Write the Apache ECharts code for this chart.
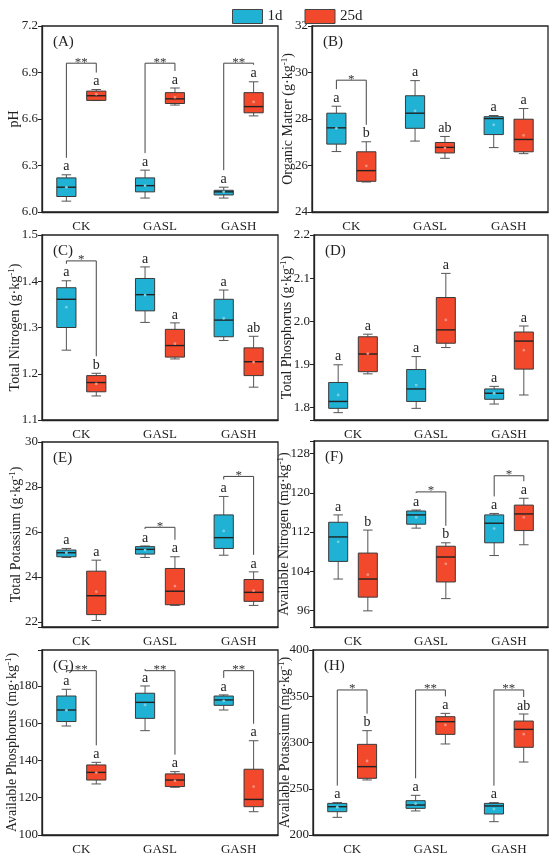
<!DOCTYPE html>
<html>
<head>
<meta charset="utf-8">
<script src="https://cdn.jsdelivr.net/npm/echarts@6/dist/echarts.min.js"></script>
<style>
  html, body { margin: 0; padding: 0; background: #fff; }
  #chart { width: 550px; height: 861px; }
</style>
</head>
<body>
<div id="chart"></div>
<script>
var chart = echarts.init(document.getElementById('chart'));
var FONT = 'Liberation Serif';
var C1 = '#1fb2d4';   // 1d
var C2 = '#f2482b';   // 25d

var categories = ['CK', 'GASL', 'GASH'];
var periods = ['1d', '25d'];
var panelTags = ['(A)', '(B)', '(C)', '(D)', '(E)', '(F)', '(G)', '(H)'];

// box rows: [min, Q1, median, Q3, max, mean]
var pH_1d  = [[6.07, 6.10, 6.16, 6.22, 6.24, 6.16], [6.09, 6.13, 6.17, 6.22, 6.27, 6.17], [6.09, 6.11, 6.13, 6.14, 6.16, 6.13]];
var pH_25d = [[6.72, 6.72, 6.75, 6.78, 6.79, 6.76], [6.69, 6.70, 6.73, 6.77, 6.80, 6.74], [6.62, 6.64, 6.68, 6.77, 6.84, 6.71]];
var om_1d  = [[26.6, 26.92, 27.62, 28.25, 28.55, 27.6], [27.05, 27.6, 28.25, 29.0, 29.65, 28.35], [26.77, 27.33, 28.02, 28.1, 28.15, 27.75]];
var om_25d = [[25.29, 25.32, 25.78, 26.59, 27.02, 25.98], [26.31, 26.54, 26.78, 26.99, 27.25, 26.75], [26.51, 26.59, 27.12, 27.99, 28.45, 27.3]];
var tn_1d  = [[1.251, 1.30, 1.361, 1.386, 1.401, 1.344], [1.311, 1.336, 1.371, 1.406, 1.431, 1.37], [1.272, 1.28, 1.316, 1.361, 1.381, 1.32]];
var tn_25d = [[1.152, 1.161, 1.181, 1.196, 1.201, 1.178], [1.232, 1.236, 1.261, 1.296, 1.31, 1.265], [1.171, 1.196, 1.226, 1.256, 1.281, 1.225]];
var tp_1d  = [[1.788, 1.798, 1.814, 1.858, 1.899, 1.829], [1.798, 1.814, 1.843, 1.888, 1.918, 1.852], [1.808, 1.819, 1.833, 1.843, 1.849, 1.833]];
var tp_25d = [[1.878, 1.883, 1.924, 1.964, 1.97, 1.925], [1.939, 1.949, 1.98, 2.055, 2.111, 2.003], [1.829, 1.889, 1.954, 1.975, 1.989, 1.933]];
var tk_1d  = [[24.87, 24.9, 25.08, 25.2, 25.27, 25.08], [24.87, 25.02, 25.23, 25.35, 25.38, 25.2], [24.97, 25.27, 25.75, 26.76, 27.58, 26.05]];
var tk_25d = [[22.07, 22.33, 23.17, 24.26, 24.75, 23.35], [22.74, 22.77, 23.37, 24.38, 24.9, 23.6], [22.74, 22.92, 23.32, 23.89, 24.23, 23.4]];
var an_1d  = [[102.4, 106.0, 111.0, 114.0, 115.5, 110.0], [112.8, 113.6, 115.5, 116.3, 116.5, 115.0], [107.2, 109.8, 113.8, 115.5, 115.8, 112.7]];
var an_25d = [[95.9, 98.7, 102.4, 107.7, 112.4, 103.3], [98.4, 101.8, 106.9, 109.1, 109.8, 105.5], [109.4, 112.3, 115.7, 117.5, 118.9, 115.0]];
var ap_1d  = [[158.5, 160.9, 167.1, 174.6, 178.2, 167.0], [156.0, 162.6, 171.2, 176.1, 180.0, 169.8], [167.1, 169.6, 172.5, 174.6, 175.2, 172.0]];
var ap_25d = [[127.4, 129.5, 133.6, 137.6, 139.0, 133.5], [125.6, 126.0, 129.5, 132.8, 134.0, 129.0], [112.5, 115.2, 119.1, 135.3, 150.6, 126.0]];
var ak_1d  = [[219.1, 225.2, 230.6, 234.2, 235.0, 230.0], [226.0, 228.8, 232.4, 237.1, 242.9, 234.0], [214.4, 222.7, 231.4, 234.2, 235.0, 228.0]];
var ak_25d = [[259.5, 261.3, 273.9, 298.0, 312.8, 280.0], [298.4, 308.8, 322.5, 327.9, 331.5, 319.0], [278.9, 294.8, 314.2, 323.2, 330.8, 309.0]];

// significance letters [1d, 25d] per category
var pH_letters = [['a', 'a'], ['a', 'a'], ['a', 'a']];
var om_letters = [['a', 'b'], ['a', 'ab'], ['a', 'a']];
var tn_letters = [['a', 'b'], ['a', 'a'], ['a', 'ab']];
var tp_letters = [['a', 'a'], ['a', 'a'], ['a', 'a']];
var tk_letters = [['a', 'a'], ['a', 'a'], ['a', 'a']];
var an_letters = [['a', 'b'], ['a', 'b'], ['a', 'a']];
var ap_letters = [['a', 'a'], ['a', 'a'], ['a', 'a']];
var ak_letters = [['a', 'b'], ['a', 'a'], ['a', 'ab']];

// brackets between 1d and 25d: [category index, bracket level, stars]
var pH_sig = [[0, 6.96, '**'], [1, 6.96, '**'], [2, 6.96, '**']];
var om_sig = [[0, 29.67, '*']];
var tn_sig = [[0, 1.444, '*']];
var tp_sig = [];
var tk_sig = [[1, 26.21, '*'], [2, 28.47, '*']];
var an_sig = [[1, 120.2, '*'], [2, 123.5, '*']];
var ap_sig = [[0, 188.2, '**'], [1, 188.2, '**'], [2, 188.2, '**']];
var ak_sig = [[0, 356.8, '*'], [1, 356.8, '**'], [2, 356.8, '**']];

// y axes: [min, max, step]
var yRanges = [[6.0, 7.2, 0.3], [24, 32, 2], [1.1, 1.5, 0.1], [1.771, 2.2, 0.1],
               [21.78, 30, 2], [92.6, 130.6, 8], [100, 199.3, 20], [200, 400, 50]];
var yDecimals = [1, 0, 1, 1, 0, 0, 0, 0];
var yNames = ['pH', 'Organic Matter (g·kg', 'Total Nitrogen (g·kg', 'Total Phosphorus (g·kg',
              'Total Potassium (g·kg', 'Available Nitrogen (mg·kg', 'Available Phosphorus (mg·kg', 'Available Potassium (mg·kg'];

var boxes = [[pH_1d, pH_25d], [om_1d, om_25d], [tn_1d, tn_25d], [tp_1d, tp_25d],
             [tk_1d, tk_25d], [an_1d, an_25d], [ap_1d, ap_25d], [ak_1d, ak_25d]];
var letters = [pH_letters, om_letters, tn_letters, tp_letters, tk_letters, an_letters, ap_letters, ak_letters];
var sigs = [pH_sig, om_sig, tn_sig, tp_sig, tk_sig, an_sig, ap_sig, ak_sig];

// panel positions (left, top, width, height) and axis-name gaps
var gridPos = [[42, 26, 236, 186], [312, 26, 236, 186],
               [42, 235, 236, 185], [314, 235, 234, 185],
               [42, 442, 236, 185], [314, 441, 234, 186],
               [42, 650, 236, 185], [313, 650, 235, 185]];
var nameGaps = [19.5, 16, 19, 19, 17.5, 22, 22, 20];

function boxRender(p, k) {
    return function (params, api) {
        var ci = api.value(0);
        var bw = api.size([1, 0])[0];
        var cx = api.coord([ci, api.value(3)])[0] + (k === 0 ? -1 : 1) * bw * 0.19;
        var half = bw * 0.122;
        var cap = half * 0.5;
        var yMin = api.coord([ci, api.value(1)])[1];
        var yQ1 = api.coord([ci, api.value(2)])[1];
        var yMed = api.coord([ci, api.value(3)])[1];
        var yQ3 = api.coord([ci, api.value(4)])[1];
        var yMax = api.coord([ci, api.value(5)])[1];
        var yMean = api.coord([ci, api.value(6)])[1];
        var wStyle = { stroke: '#555', lineWidth: 1 };
        var fill = k === 0 ? C1 : C2;
        return {
            type: 'group',
            children: [
                { type: 'line', shape: { x1: cx, y1: yQ3, x2: cx, y2: yMax }, style: wStyle },
                { type: 'line', shape: { x1: cx, y1: yQ1, x2: cx, y2: yMin }, style: wStyle },
                { type: 'line', shape: { x1: cx - cap, y1: yMax, x2: cx + cap, y2: yMax }, style: wStyle },
                { type: 'line', shape: { x1: cx - cap, y1: yMin, x2: cx + cap, y2: yMin }, style: wStyle },
                { type: 'rect', shape: { x: cx - half, y: yQ3, width: half * 2, height: yQ1 - yQ3 },
                  style: { fill: fill, stroke: '#3a3a3a', lineWidth: 1 } },
                { type: 'line', shape: { x1: cx - half, y1: yMed, x2: cx + half, y2: yMed },
                  style: { stroke: '#222', lineWidth: 1.4 } },
                { type: 'circle', shape: { cx: cx, cy: yMean, r: 1.4 },
                  style: { fill: k === 0 ? '#78cfe4' : '#f58f7d' } },
                { type: 'text', style: { text: letters[p][ci][k], x: cx, y: yMax - 8,
                  align: 'center', verticalAlign: 'middle', fontSize: 14, fontFamily: FONT, fill: '#222' } }
            ]
        };
    };
}

function sigRender(p) {
    return function (params, api) {
        var ci = api.value(0);
        var bw = api.size([1, 0])[0];
        var c = api.coord([ci, api.value(1)]);
        var x1 = c[0] - bw * 0.19, x2 = c[0] + bw * 0.19;
        var yTop = c[1];
        var y1 = api.coord([ci, boxes[p][0][ci][4]])[1] - 17;
        var y2 = api.coord([ci, boxes[p][1][ci][4]])[1] - 17;
        return {
            type: 'group',
            children: [
                { type: 'polyline', shape: { points: [[x1, y1], [x1, yTop], [x2, yTop], [x2, y2]] },
                  style: { stroke: '#444', lineWidth: 1, fill: null } },
                { type: 'text', style: { text: sigs[p][params.dataIndex][2], x: (x1 + x2) / 2, y: yTop - 1,
                  align: 'center', verticalAlign: 'middle', fontSize: 13, fontFamily: FONT, fill: '#333' } }
            ]
        };
    };
}

var grids = [], xAxes = [], yAxes = [], titles = [], series = [];
for (var p = 0; p < 8; p++) {
    var g = gridPos[p];
    grids.push({ left: g[0], top: g[1], width: g[2], height: g[3], show: true,
                 borderColor: '#222', borderWidth: 1.3, backgroundColor: 'transparent' });
    xAxes.push({
        type: 'category', gridIndex: p, data: categories,
        axisLine: { lineStyle: { color: '#222', width: 1.3 } },
        axisTick: { alignWithLabel: true, length: 4, lineStyle: { color: '#222' } },
        axisLabel: { fontSize: 13, fontFamily: FONT, color: '#222', margin: 8 }
    });
    var yr = yRanges[p];
    yAxes.push({
        type: 'value', gridIndex: p, min: yr[0], max: yr[1],
        minInterval: yr[2], maxInterval: yr[2],
        name: p === 0 ? '{t|pH}' : '{t|' + yNames[p] + '}{s|-1}{t|)}',
        nameLocation: 'middle', nameGap: nameGaps[p], nameMoveOverlap: false,
        nameTextStyle: {
            rich: {
                t: { fontSize: 14, fontFamily: FONT, color: '#222', lineHeight: 16 },
                s: { fontSize: 9, fontFamily: FONT, color: '#222', verticalAlign: 'top', lineHeight: 9 }
            }
        },
        splitLine: { show: false },
        axisLine: { show: true, lineStyle: { color: '#222', width: 1.3 } },
        axisTick: { show: true, length: 4, lineStyle: { color: '#222' } },
        axisLabel: {
            fontSize: 13, fontFamily: FONT, color: '#222', margin: 4,
            formatter: (function (step, dec) {
                return function (v) {
                    var r = v / step;
                    if (Math.abs(r - Math.round(r)) > 1e-6) return '';
                    return v.toFixed(dec);
                };
            })(yr[2], yDecimals[p])
        }
    });
    titles.push({ text: panelTags[p], left: g[0] + 6, top: g[1] + 4,
                  textStyle: { fontSize: 15, fontWeight: 'normal', fontFamily: FONT, color: '#222' } });
    for (var k = 0; k < 2; k++) {
        series.push({
            type: 'custom', name: periods[k], xAxisIndex: p, yAxisIndex: p,
            itemStyle: { color: k === 0 ? C1 : C2 },
            renderItem: boxRender(p, k),
            data: boxes[p][k].map(function (b, ci) { return [ci].concat(b); }),
            z: 3
        });
    }
    if (sigs[p].length) {
        series.push({
            type: 'custom', xAxisIndex: p, yAxisIndex: p,
            renderItem: sigRender(p),
            data: sigs[p].map(function (s) { return [s[0], s[1]]; }),
            z: 4, silent: true
        });
    }
}

chart.setOption({
    backgroundColor: '#fff',
    animation: false,
    textStyle: { fontFamily: FONT },
    title: titles,
    legend: {
        left: 227, top: 4, itemWidth: 30, itemHeight: 14, itemGap: 22,
        textStyle: { fontSize: 15, fontFamily: FONT, color: '#222' },
        data: [
            { name: '1d', icon: 'rect', itemStyle: { color: C1, borderColor: '#444', borderWidth: 1 } },
            { name: '25d', icon: 'rect', itemStyle: { color: C2, borderColor: '#444', borderWidth: 1 } }
        ]
    },
    grid: grids,
    xAxis: xAxes,
    yAxis: yAxes,
    series: series
});

window.addEventListener('resize', function () {
    chart.resize();
});
</script>
</body>
</html>
